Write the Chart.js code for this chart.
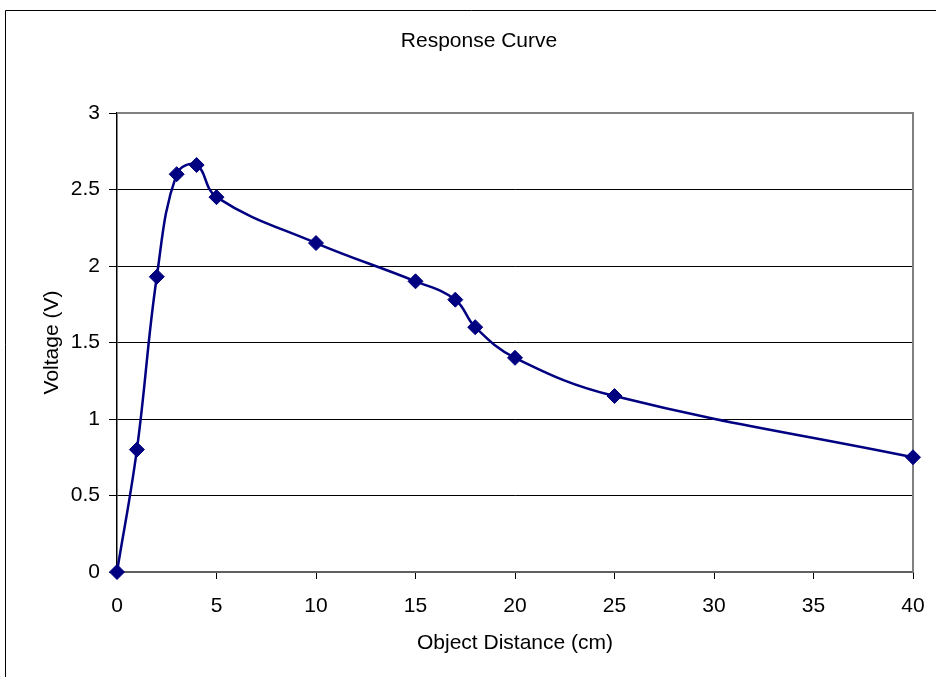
<!DOCTYPE html>
<html>
<head>
<meta charset="utf-8">
<script src="https://cdn.jsdelivr.net/npm/chart.js@4/dist/chart.umd.min.js"></script>
<style>
html,body{margin:0;padding:0;background:#fff;}
canvas{display:block;}
</style>
</head>
<body>
<canvas id="c" width="936" height="677"></canvas>
<script>
const chartTitle = "Response Curve";
const xTitle = "Object Distance (cm)";
const yTitle = "Voltage (V)";
const distances = [0, 1, 2, 3, 4, 5, 10, 15, 17, 18, 20, 25, 40];
const voltages = [0, 0.8, 1.93, 2.6, 2.66, 2.45, 2.15, 1.9, 1.78, 1.6, 1.4, 1.15, 0.75];
const xTicks = [0, 5, 10, 15, 20, 25, 30, 35, 40];
const yTicks = [0, 0.5, 1, 1.5, 2, 2.5, 3];

const FONT = "'Liberation Sans', Arial, sans-serif";
const NAVY = '#000080';

const framePlugin = {
  id: 'frame',
  beforeDraw(chart) {
    const ctx = chart.ctx;
    ctx.save();
    ctx.fillStyle = '#fff';
    ctx.fillRect(0, 0, chart.width, chart.height);
    ctx.strokeStyle = '#000';
    ctx.lineWidth = 1;
    ctx.beginPath();
    ctx.moveTo(5.5, chart.height + 2);
    ctx.lineTo(5.5, 10.5);
    ctx.lineTo(chart.width + 2, 10.5);
    ctx.stroke();
    ctx.fillStyle = '#000';
    ctx.font = '21px ' + FONT;
    ctx.textAlign = 'center';
    ctx.textBaseline = 'middle';
    ctx.fillText(chartTitle, 479, 41.5);
    ctx.restore();
  },
  beforeDatasetsDraw(chart) {
    const a = chart.chartArea;
    const ctx = chart.ctx;
    ctx.save();
    ctx.strokeStyle = '#808080';
    ctx.lineWidth = 2;
    ctx.beginPath();
    ctx.moveTo(a.left, a.top);
    ctx.lineTo(a.right, a.top);
    ctx.lineTo(a.right, a.bottom);
    ctx.stroke();
    ctx.restore();
  }
};

new Chart(document.getElementById('c'), {
  type: 'scatter',
  data: {
    datasets: [{
      label: 'Voltage',
      data: distances.map((d, i) => ({x: d, y: voltages[i]})),
      showLine: true,
      borderColor: NAVY,
      backgroundColor: NAVY,
      borderWidth: 2.5,
      tension: 0.4,
      pointStyle: 'rectRot',
      pointRadius: 7.5,
      pointBorderWidth: 1,
      pointBorderColor: NAVY,
      pointBackgroundColor: NAVY,
      clip: false
    }]
  },
  options: {
    responsive: false,
    animation: false,
    events: [],
    layout: { padding: { top: 113, right: 23, left: 0, bottom: 0 } },
    plugins: {
      legend: { display: false },
      title: { display: false },
      tooltip: { enabled: false }
    },
    scales: {
      x: {
        type: 'linear',
        min: 0, max: 40,
        afterFit(s) { s.height = 105; s.paddingRight = 0; s.paddingLeft = 0; },
        afterBuildTicks(s) { s.ticks = xTicks.map(v => ({value: v})); },
        grid: { drawOnChartArea: false, drawTicks: true, tickLength: 7, tickColor: '#000', tickWidth: 1 },
        border: { color: '#606060', width: 2 },
        ticks: { color: '#000', font: { family: FONT, size: 21 }, padding: 15, maxRotation: 0, autoSkip: false, callback: v => String(v) },
        title: { display: true, text: xTitle, color: '#000', font: { family: FONT, size: 21 }, padding: { top: 0, bottom: 21 } }
      },
      y: {
        type: 'linear',
        min: 0, max: 3,
        afterFit(s) { s.width = 117; s.paddingTop = 0; s.paddingBottom = 0; },
        afterBuildTicks(s) { s.ticks = yTicks.map(v => ({value: v})); },
        grid: { color: '#000', lineWidth: 1, drawTicks: true, tickLength: 8, tickColor: '#000' },
        border: { color: '#000', width: 1.5 },
        ticks: { color: '#000', font: { family: FONT, size: 21 }, padding: 9, autoSkip: false, callback: v => String(v) },
        title: { display: true, text: yTitle, color: '#000', font: { family: FONT, size: 21 }, padding: { top: 40, bottom: 0 } }
      }
    }
  },
  plugins: [framePlugin]
});
</script>
</body>
</html>
